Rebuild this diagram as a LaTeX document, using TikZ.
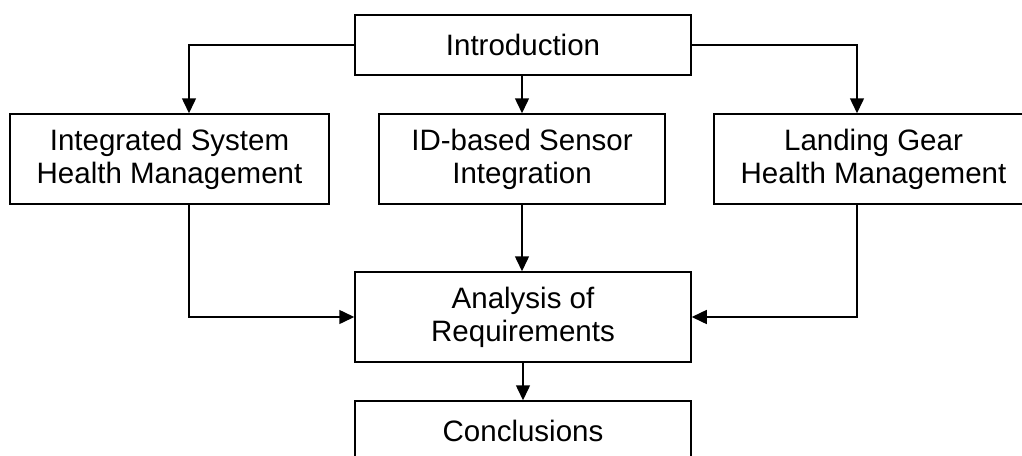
\documentclass[tikz,border=0pt]{standalone}
\usepackage{fontspec}
\setmainfont{Liberation Sans}
\usetikzlibrary{arrows.meta}
\begin{document}
\begin{tikzpicture}[x=1pt,y=-1pt,
  box/.style={draw=black, line width=1.5pt, rectangle, inner sep=0pt, align=center,
    font=\fontsize{29.5}{33}\selectfont, text=black},
  arr/.style={draw=black, line width=1.5pt, -{Triangle[length=15pt,width=14pt]}}]
\useasboundingbox (0,0) rectangle (1022,455);
\node[box, minimum width=336pt, minimum height=60pt] (intro) at (523,45) {Introduction};
\node[box, minimum width=319pt, minimum height=90pt] (lb) at (169.5,159) {Integrated System\\Health Management};
\node[box, minimum width=286pt, minimum height=90pt] (mb) at (522,159) {ID-based Sensor\\Integration};
\node[box, minimum width=319pt, minimum height=90pt] (rb) at (873.5,159) {Landing Gear\\Health Management};
\node[box, minimum width=336pt, minimum height=90pt] (an) at (523,317) {Analysis of\\Requirements};
\node[box, minimum width=336pt, minimum height=90pt] (co) at (523,446) {\raisebox{15pt}[\height][\depth]{Conclusions}};
\draw[arr] (intro.west) -| ([xshift=19.5pt]lb.north);
\draw[arr] (intro.east) -| ([xshift=-16.5pt]rb.north);
\draw[arr] (mb.north |- intro.south) -- (mb.north);
\draw[arr] ([xshift=19.5pt]lb.south) |- (an.west);
\draw[arr] ([xshift=-16.5pt]rb.south) |- (an.east);
\draw[arr] (mb.south) -- (mb.south |- an.north);
\draw[arr] (an.south) -- (co.north);
\end{tikzpicture}
\end{document}
